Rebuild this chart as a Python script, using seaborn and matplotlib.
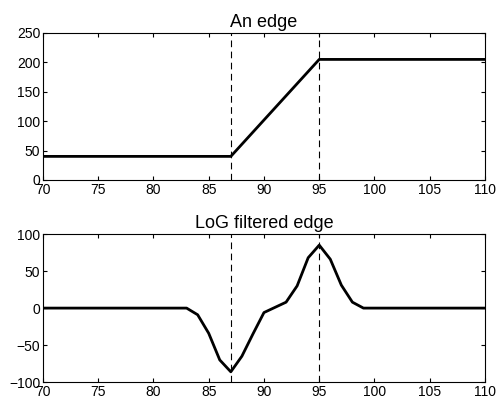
import numpy as np
import pandas as pd
import matplotlib.pyplot as plt
import seaborn as sns

# ── Data ───────────────────────────────────────────────────────────────────────
EDGE_X = [70, 87, 95, 110]
EDGE_Y = [40, 40, 205, 205]

LOG_X = list(range(70, 111))
LOG_Y = ([0] * 14                                   # 70 .. 83
         + [-9, -34, -70, -86, -65, -35, -6,        # 84 .. 90
            1, 8, 30, 68, 85, 66, 31, 8]            # 91 .. 98
         + [0] * 12)                                # 99 .. 110

EDGE_MARKS = [87, 95]

# ── Style ──────────────────────────────────────────────────────────────────────
sns.set_theme(style="ticks")
plt.rcParams["font.family"] = ["Liberation Sans", "DejaVu Sans"]
plt.rcParams["text.color"] = "black"


def style_axes(ax, ylim, yticks, title):
    ax.set_xlim(70, 110)
    ax.set_ylim(*ylim)
    ax.set_xticks(range(70, 111, 5))
    ax.set_yticks(yticks)
    ax.tick_params(direction="in", top=True, right=True, length=3,
                   width=0.8, labelsize=10, colors="black", pad=2)
    for sp in ax.spines.values():
        sp.set_visible(True)
        sp.set_color("black")
        sp.set_linewidth(0.8)
    ax.set_xlabel("")
    ax.set_ylabel("")
    ax.set_title(title, fontsize=13, pad=4, color="black")
    for xm in EDGE_MARKS:
        ax.axvline(xm, color="black", linestyle=(0, (6, 4)), linewidth=0.8)


fig = plt.figure(figsize=(4.99, 4.07), dpi=100)
ax1 = fig.add_axes([0.086, 0.558, 0.886, 0.361])
ax2 = fig.add_axes([0.086, 0.061, 0.886, 0.364])

df_edge = pd.DataFrame({"x": EDGE_X, "y": EDGE_Y})
df_log = pd.DataFrame({"x": LOG_X, "y": LOG_Y})

sns.lineplot(data=df_edge, x="x", y="y", ax=ax1, color="black", linewidth=2)
style_axes(ax1, (0, 250), range(0, 251, 50), "An edge")

sns.lineplot(data=df_log, x="x", y="y", ax=ax2, color="black", linewidth=2)
style_axes(ax2, (-100, 100), range(-100, 101, 50), "LoG filtered edge")

fig.savefig("out.png", dpi=100)
